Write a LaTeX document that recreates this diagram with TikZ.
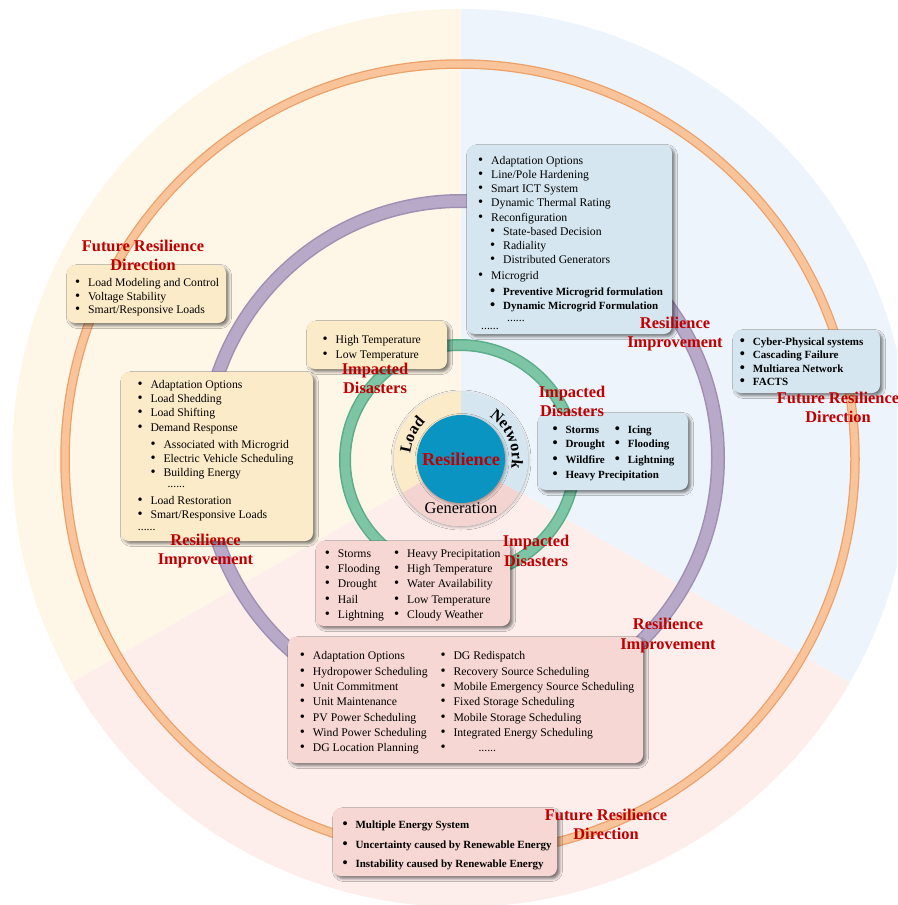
\documentclass[tikz,border=0pt]{standalone}
\usepackage{fontspec}
\setmainfont{Liberation Serif}
\usetikzlibrary{shadows.blur,decorations.text}
\definecolor{bgY}{HTML}{FEF6E7}
\definecolor{bgB}{HTML}{EEF4FB}
\definecolor{bgP}{HTML}{FDEEEC}
\definecolor{bxY}{HTML}{FCEBC8}
\definecolor{bxB}{HTML}{D5E6F0}
\definecolor{bxP}{HTML}{F6D7D3}
\definecolor{dkY}{HTML}{FBEBC9}
\definecolor{dkB}{HTML}{D5E6F1}
\definecolor{dkP}{HTML}{F4D4D1}
\definecolor{redT}{HTML}{C00000}
\definecolor{oraE}{HTML}{EC9F68}
\definecolor{oraF}{HTML}{F9C49A}
\definecolor{purE}{HTML}{A08FB3}
\definecolor{purF}{HTML}{B8A9C8}
\definecolor{grnE}{HTML}{5BAD89}
\definecolor{grnF}{HTML}{7DC5A5}
\definecolor{resB}{HTML}{0A94C2}
\newcommand\bul{\makebox[13pt][l]{\fontsize{14.5}{14.5}\selectfont\textbullet}}
\newcommand\itm[1]{\bul#1}
\newcommand\twoc[3]{\makebox[#1pt][l]{\itm{#2}}\itm{#3}}
\newcommand\sixdots{......}
\newcommand\boxlines[3]{\foreach \bly/\blx/\blt [count=\bli] in {#3} {\node[#2] (#1-\bli) at (\blx,-\bly) {\blt};}}
\newcommand\redlab[2]{\begin{tabular}[t]{@{}c@{}}#1\\#2\end{tabular}}
\begin{document}
\begin{tikzpicture}[x=1pt,y=1pt,
  bx/.style={rectangle, rounded corners=8pt, anchor=north west, inner sep=0pt, outer sep=0pt,
    blur shadow={shadow xshift=2.5pt, shadow yshift=-2.5pt, shadow blur radius=3pt, shadow opacity=55}},
  lst/.style={anchor=base west, inner sep=0pt, font=\fontsize{11.7}{14}\selectfont},
  lstb/.style={anchor=base west, inner sep=0pt, font=\bfseries\fontsize{11}{13}\selectfont},
  lbl/.style={anchor=base, inner sep=0pt, text=redT, font=\bfseries\fontsize{16.4}{19.8}\selectfont}]
\useasboundingbox (0,0) rectangle (897,-905);
\clip (0,0) rectangle (897,-905);
\coordinate (O) at (461,-458);
\coordinate (C) at (461,-459);
% background sectors
\fill[bgY] (O) -- ++(90:449) arc[start angle=90,end angle=210,radius=449] -- cycle;
\fill[bgP] (O) -- ++(210:449) arc[start angle=210,end angle=330,radius=449] -- cycle;
\fill[bgB] (O) -- ++(-30:449) arc[start angle=-30,end angle=90,radius=449] -- cycle;
% rings
\draw[oraE, line width=9.5pt] (460,-459) circle[radius=395];
\draw[oraF, line width=7pt] (460,-459) circle[radius=395];
\draw[purE, line width=14pt] (461,-458) circle[radius=257];
\draw[purF, line width=11pt] (461,-458) circle[radius=257];
\draw[grnE, line width=12pt] (460,-460) circle[radius=115];
\draw[grnF, line width=9pt] (460,-460) circle[radius=115];
% inner disk
\node[circle, minimum size=134pt, inner sep=0pt, fill=white,
  blur shadow={shadow xshift=0pt, shadow yshift=-1pt, shadow blur radius=3pt, shadow opacity=35}] (disk) at (C) {};
\fill[dkY] (C) -- ++(90:67) arc[start angle=90,end angle=210,radius=67] -- cycle;
\fill[dkP] (C) -- ++(210:67) arc[start angle=210,end angle=330,radius=67] -- cycle;
\fill[dkB] (C) -- ++(-30:67) arc[start angle=-30,end angle=90,radius=67] -- cycle;
\node[circle, minimum size=88pt, inner sep=0pt, fill=resB, text=redT,
  blur shadow={shadow xshift=1pt, shadow yshift=-1.5pt, shadow blur radius=3pt, shadow opacity=40},
  font=\bfseries\fontsize{18.2}{20}\selectfont] (res) at (C) {Resilience};
\path[decorate, decoration={text along path, text align=center,
  text={|\bfseries\fontsize{16}{18}\selectfont|Load}}]
  ([shift={(180:51)}]C) arc[start angle=180, end angle=128, radius=51];
\path[decorate, decoration={text along path, text align=center,
  text={|\bfseries\fontsize{16}{18}\selectfont|Network}}]
  ([shift={(60:51)}]C) arc[start angle=60, end angle=-14, radius=51];
\node[anchor=base, inner sep=0pt, font=\fontsize{16.4}{18}\selectfont] (gen) at (461,-513.5) {Generation};
% boxes
\node[bx, fill=bxB, minimum width=205pt, minimum height=189pt] (nri) at (467,-145) {};
\node[bx, fill=bxY, minimum width=159pt, minimum height=58pt] (lfrd) at (67,-265) {};
\node[bx, fill=bxY, minimum width=140pt, minimum height=48pt] (lid) at (307,-321) {};
\node[bx, fill=bxY, minimum width=192pt, minimum height=169pt] (lri) at (121,-372) {};
\node[bx, fill=bxB, minimum width=150pt, minimum height=77pt] (nid) at (538,-413) {};
\node[bx, fill=bxP, minimum width=194pt, minimum height=85pt] (gid) at (316,-541) {};
\node[bx, fill=bxP, minimum width=355pt, minimum height=126pt] (gri) at (288,-637) {};
\node[bx, fill=bxP, minimum width=224pt, minimum height=68pt] (gfrd) at (333,-808) {};
\node[bx, fill=bxB, minimum width=147pt, minimum height=63pt] (nfrd) at (733,-330) {};
% box texts
\boxlines{nrit}{lst}{164.5/478/{\itm{Adaptation Options}},
  178.5/478/{\itm{Line/Pole Hardening}},
  192.8/478/{\itm{Smart ICT System}},
  206.8/478/{\itm{Dynamic Thermal Rating}},
  221/478/{\itm{Reconfiguration}},
  235/490/{\itm{State-based Decision}},
  249.5/490/{\itm{Radiality}},
  263.5/490/{\itm{Distributed Generators}},
  279.5/478/{\itm{Microgrid}},
  321/507/{\sixdots},
  329/481/{\sixdots}}
\boxlines{nritb}{lstb}{295.5/490/{\itm{Preventive Microgrid formulation}},
  309.5/490/{\itm{Dynamic Microgrid Formulation}}}
\boxlines{lfrdt}{lst}{286/75/{\itm{Load Modeling and Control}},
  300/75/{\itm{Voltage Stability}},
  313.5/75/{\itm{Smart/Responsive Loads}}}
\boxlines{lidt}{lst}{343/322.4/{\itm{High Temperature}},
  358/322.4/{\itm{Low Temperature}}}
\boxlines{lrit}{lst}{388.5/137.3/{\itm{Adaptation Options}},
  402.8/137.3/{\itm{Load Shedding}},
  416.8/137.3/{\itm{Load Shifting}},
  431.2/137.3/{\itm{Demand Response}},
  448.5/150.3/{\itm{Associated with Microgrid}},
  462.5/150.3/{\itm{Electric Vehicle Scheduling}},
  476.8/150.3/{\itm{Building Energy}},
  487.5/167.3/{\sixdots},
  504.5/137.3/{\itm{Load Restoration}},
  518.8/137.3/{\itm{Smart/Responsive Loads}},
  530/137.7/{\sixdots}}
\boxlines{nidt}{lstb}{433/552.3/{\twoc{62.4}{Storms}{Icing}},
  447.5/552.3/{\twoc{62.4}{Drought}{Flooding}},
  463.5/552.3/{\twoc{62.4}{Wildfire}{Lightning}},
  478.5/552.3/{\itm{Heavy Precipitation}}}
\boxlines{gidt}{lst}{557.5/324.7/{\twoc{69.3}{Storms}{Heavy Precipitation}},
  572.5/324.7/{\twoc{69.3}{Flooding}{High Temperature}},
  587.5/324.7/{\twoc{69.3}{Drought}{Water Availability}},
  603/324.7/{\twoc{69.3}{Hail}{Low Temperature}},
  618.5/324.7/{\twoc{69.3}{Lightning}{Cloudy Weather}}}
\boxlines{grit}{lst}{659.5/299.7/{\twoc{140.6}{Adaptation Options}{DG Redispatch}},
  675.2/299.7/{\twoc{140.6}{Hydropower Scheduling}{Recovery Source Scheduling}},
  690.8/299.7/{\twoc{140.6}{Unit Commitment}{Mobile Emergency Source Scheduling}},
  705.8/299.7/{\twoc{140.6}{Unit Maintenance}{Fixed Storage Scheduling}},
  721.2/299.7/{\twoc{140.6}{PV Power Scheduling}{Mobile Storage Scheduling}},
  736.8/299.7/{\twoc{140.6}{Wind Power Scheduling}{Integrated Energy Scheduling}},
  751.8/299.7/{\makebox[140.6pt][l]{\itm{DG Location Planning}}\makebox[38pt][l]{\fontsize{14.5}{14.5}\selectfont\textbullet}\sixdots}}
\boxlines{gfrdt}{lstb}{828/342.3/{\itm{Multiple Energy System}},
  848/342.3/{\itm{Uncertainty caused by Renewable Energy}},
  867.5/342.3/{\itm{Instability caused by Renewable Energy}}}
\boxlines{nfrdt}{lstb}{345.5/739.7/{\itm{Cyber-Physical systems}},
  358.8/739.7/{\itm{Cascading Failure}},
  372/739.7/{\itm{Multiarea Network}},
  385.5/739.7/{\itm{FACTS}}}
% red labels
\node[lbl] (lfrdL) at (143,-251) {\redlab{Future Resilience}{Direction}};
\node[lbl] (nriL) at (675,-328) {\redlab{Resilience}{Improvement}};
\node[lbl] (lidL) at (375,-374) {\redlab{Impacted}{Disasters}};
\node[lbl] (nidL) at (572,-397) {\redlab{Impacted}{Disasters}};
\node[lbl] (nfrdL) at (838,-403) {\redlab{Future Resilience}{Direction}};
\node[lbl] (lriL) at (205.5,-545) {\redlab{Resilience}{Improvement}};
\node[lbl] (gidL) at (536,-546.5) {\redlab{Impacted}{Disasters}};
\node[lbl] (griL) at (668,-629.5) {\redlab{Resilience}{Improvement}};
\node[lbl] (gfrdL) at (606,-820) {\redlab{Future Resilience}{Direction}};
\end{tikzpicture}
\end{document}
